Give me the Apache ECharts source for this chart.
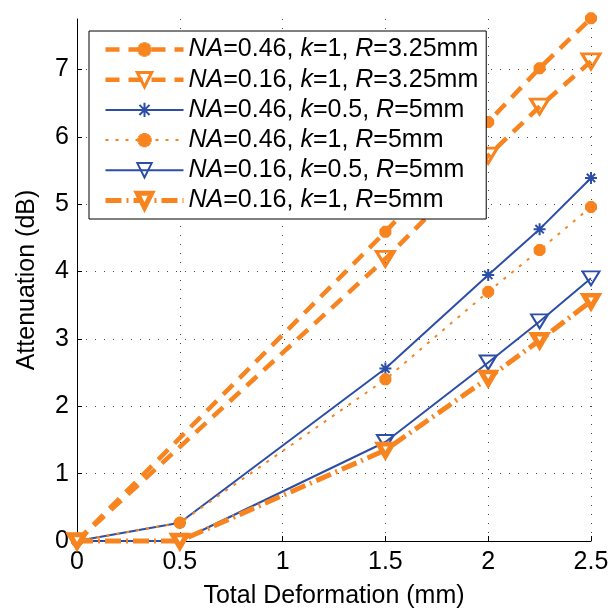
<!DOCTYPE html>
<html>
<head>
<meta charset="utf-8">
<script src="https://cdn.jsdelivr.net/npm/echarts@6/dist/echarts.min.js"></script>
<style>
  html, body { margin: 0; padding: 0; background: #fff; }
  #chart { width: 610px; height: 608px; }
</style>
</head>
<body>
<div id="chart"></div>
<script>
// Deformation steps (mm)
const xFull = [0, 0.5, 1.5, 2, 2.25, 2.5];
const xBend325 = [0, 1.5, 2, 2.25, 2.5];

// Attenuation (dB) per configuration
const na046k1r325 = [0, 4.59, 6.22, 7.02, 7.76];
const na016k1r325 = [0, 4.19, 5.72, 6.45, 7.12];
const na046k05r5 = [0, 0.27, 2.56, 3.95, 4.63, 5.39];
const na046k1r5 = [0, 0.27, 2.40, 3.70, 4.32, 4.96];
const na016k05r5 = [0, 0, 1.47, 2.65, 3.26, 3.90];
const na016k1r5 = [0, 0, 1.35, 2.42, 2.98, 3.56];

const seriesNames = [
  'NA=0.46, k=1, R=3.25mm',
  'NA=0.16, k=1, R=3.25mm',
  'NA=0.46, k=0.5, R=5mm',
  'NA=0.46, k=1, R=5mm',
  'NA=0.16, k=0.5, R=5mm',
  'NA=0.16, k=1, R=5mm'
];

const ORANGE = '#F7841F';
const BLUE = '#2D4EA6';
const FONT = "'Liberation Sans', Arial, sans-serif";
const FS = 25;
const ASTERISK = 'path://M0,5L10,5M5,0L5,10M1.5,1.5L8.5,8.5M8.5,1.5L1.5,8.5';

function pairs(xs, ys) { return xs.map((x, i) => [x, ys[i]]); }

const styles = [
  { x: xBend325, y: na046k1r325, line: { color: ORANGE, width: 4.5, type: [14, 9] },
    symbol: ASTERISK, size: 12, item: { color: 'rgba(0,0,0,0)', borderColor: ORANGE, borderWidth: 4.5 } },
  { x: xBend325, y: na016k1r325, line: { color: ORANGE, width: 4.5, type: [14, 9] },
    symbol: 'triangle', rotate: 180, size: [18, 15], item: { color: 'rgba(0,0,0,0)', borderColor: ORANGE, borderWidth: 3 } },
  { x: xFull, y: na046k05r5, line: { color: BLUE, width: 2, type: 'solid' },
    symbol: ASTERISK, size: 12, item: { color: 'rgba(0,0,0,0)', borderColor: BLUE, borderWidth: 2 } },
  { x: xFull, y: na046k1r5, line: { color: ORANGE, width: 2, type: [3, 7] },
    symbol: ASTERISK, size: 12, item: { color: 'rgba(0,0,0,0)', borderColor: ORANGE, borderWidth: 4.5 } },
  { x: xFull, y: na016k05r5, line: { color: BLUE, width: 2, type: 'solid' },
    symbol: 'triangle', rotate: 180, size: [17, 14], item: { color: 'rgba(0,0,0,0)', borderColor: BLUE, borderWidth: 2 } },
  { x: xFull, y: na016k1r5, line: { color: ORANGE, width: 5, type: [16, 5, 2, 5] },
    symbol: 'triangle', rotate: 180, size: [14, 12], item: { color: '#fff', borderColor: ORANGE, borderWidth: 5 } }
];

const series = styles.map((s, i) => ({
  name: seriesNames[i],
  type: 'line',
  data: pairs(s.x, s.y),
  symbol: s.symbol,
  symbolSize: s.size,
  symbolRotate: s.rotate || 0,
  showSymbol: true,
  clip: false,
  lineStyle: s.line,
  itemStyle: s.item,
  emphasis: { disabled: true },
  z: 2 + i
}));

const legendData = styles.map((s, i) => ({
  name: seriesNames[i],
  itemStyle: Object.assign({}, s.item),
  lineStyle: Object.assign({}, s.line)
}));

const chart = echarts.init(document.getElementById('chart'), null, { renderer: 'canvas' });
chart.setOption({
  animation: false,
  backgroundColor: '#fff',
  grid: { left: 77, right: 19, top: 19, bottom: 67, containLabel: false, outerBoundsMode: 'none' },
  legend: {
    orient: 'vertical',
    left: 89,
    top: 31,
    data: legendData,
    backgroundColor: '#fff',
    borderColor: '#000',
    borderWidth: 1,
    padding: [6, 8, 6, 14],
    itemWidth: 78,
    itemHeight: 18,
    itemGap: 5.2,
    selectedMode: false,
    formatter: name => name.replace(/(NA|k|R)=/g, '{i|$1}='),
    textStyle: {
      fontFamily: FONT, fontSize: FS, color: '#000', lineHeight: 25,
      rich: { i: { fontFamily: FONT, fontSize: FS, fontStyle: 'italic', color: '#000', lineHeight: 25 } }
    }
  },
  xAxis: {
    type: 'value',
    min: 0, max: 2.5, interval: 0.5,
    name: 'Total Deformation (mm)',
    nameLocation: 'middle',
    nameGap: 43,
    nameMoveOverlap: false,
    nameTextStyle: { fontFamily: FONT, fontSize: FS, color: '#000' },
    axisLine: { show: true, lineStyle: { color: '#000', width: 1 } },
    axisTick: { show: true, inside: true, length: 5, lineStyle: { color: '#000' } },
    axisLabel: { fontFamily: FONT, fontSize: FS, color: '#000', margin: 9 },
    splitLine: { show: true, showMinLine: false, lineStyle: { color: '#444', width: 1, type: [1, 8] } }
  },
  yAxis: {
    type: 'value',
    min: 0, max: 7.75, interval: 1,
    name: 'Attenuation (dB)',
    nameLocation: 'middle',
    nameGap: 37,
    nameMoveOverlap: false,
    nameTextStyle: { fontFamily: FONT, fontSize: FS, color: '#000' },
    axisLine: { show: true, lineStyle: { color: '#000', width: 1 } },
    axisTick: { show: true, inside: true, length: 5, lineStyle: { color: '#000' } },
    axisLabel: { fontFamily: FONT, fontSize: FS, color: '#000', margin: 8, showMaxLabel: false },
    splitLine: { show: true, showMinLine: false, showMaxLine: false, lineStyle: { color: '#444', width: 1, type: [1, 8] } }
  },
  series: series
});
</script>
</body>
</html>
